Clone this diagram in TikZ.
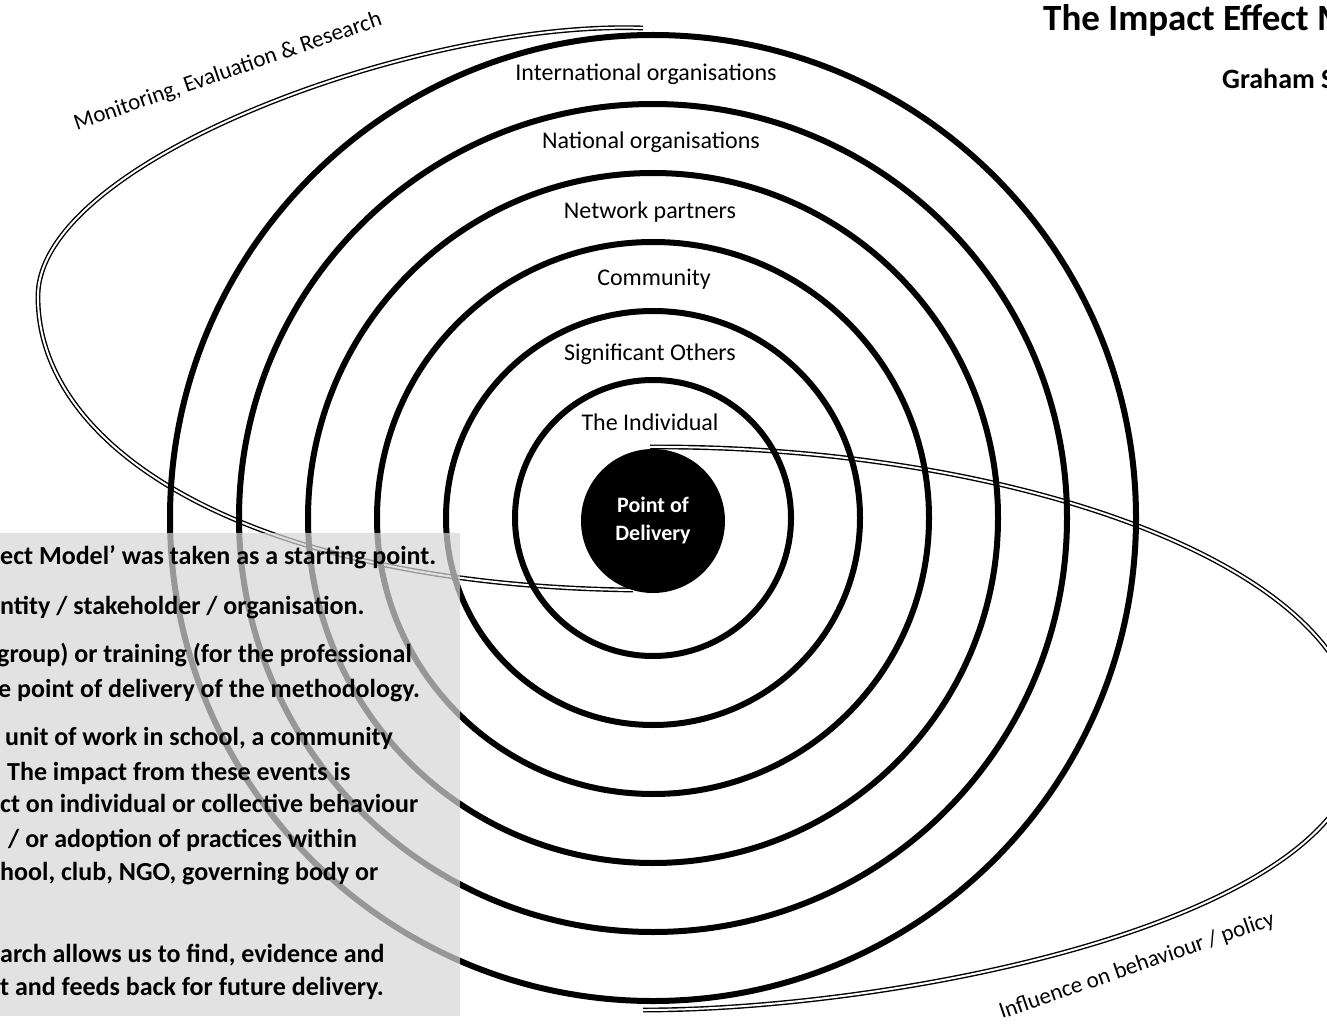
\documentclass[tikz,border=0pt]{standalone}
\usepackage{fontspec}
\setmainfont{Carlito}
\begin{document}
\begin{tikzpicture}[x=1pt,y=-1pt,
  ring/.style={line width=6pt},
  loopline/.style={double,double distance=2pt,line width=1.4pt},
  ringlabel/.style={font=\fontsize{24}{28}\selectfont},
  looplabel/.style={font=\fontsize{23}{27}\selectfont},
  boxline/.style={anchor=base west,inner sep=0pt,font=\bfseries\fontsize{26}{30}\selectfont}]

  \useasboundingbox (0,0) rectangle (1327,1024);
  \clip (0,0) rectangle (1327,1024);

  % the two loops
  \draw[loopline] (643,28) .. controls (420,20) and (40,160) .. (38,295)
    .. controls (36,450) and (250,585) .. (633,590);
  \draw[loopline] (650,447) .. controls (1000,445) and (1360,560) .. (1360,740)
    .. controls (1360,920) and (900,1010) .. (643,1010);

  % rings
  \foreach \r in {138,207,276,345,414,483}
    \draw[ring] (653,518) circle (\r pt);

  \node[circle,fill=black,minimum size=144pt,inner sep=0pt,text=white,align=center,
    font=\bfseries\fontsize{22}{28}\selectfont] (pod) at (653,521) {Point of\\Delivery};

  % ring labels
  \node[ringlabel] (intl) at (646,74)  {International organisations};
  \node[ringlabel] (natl) at (651,142) {National organisations};
  \node[ringlabel] (netw) at (650,212) {Network partners};
  \node[ringlabel] (comm) at (654,279) {Community};
  \node[ringlabel] (sig)  at (650,354) {Significant Others};
  \node[ringlabel] (indv) at (650,422) {The Individual};

  % loop labels
  \node[looplabel,rotate=19] (mer) at (228,72) {Monitoring, Evaluation \& Research};
  \node[looplabel,rotate=19] (inf) at (1137,966) {Influence on behaviour / policy};

  % title
  \node[anchor=base west,inner sep=0pt,font=\bfseries\fontsize{37}{44}\selectfont] (title)
    at (1043,31) {The Impact Effect M};
  \node[anchor=base west,inner sep=0pt,font=\bfseries\fontsize{28}{32}\selectfont] (auth)
    at (1222,89) {Graham S};

  % notes box
  \fill[white!84!black,fill opacity=0.71] (0,533) rectangle (460,1016);
  \node[boxline] (l1)  at (0,564)  {ect Model’ was taken as a starting point.};
  \node[boxline] (l2)  at (0,614)  {ntity / stakeholder / organisation.};
  \node[boxline] (l3)  at (-3,662) {group) or training (for the professional};
  \node[boxline] (l4)  at (-2,697) {e point of delivery of the methodology.};
  \node[boxline] (l5)  at (5,745)  {unit of work in school, a community};
  \node[boxline] (l6)  at (7,780)  {The impact from these events is};
  \node[boxline] (l7)  at (0,812)  {ct on individual or collective behaviour};
  \node[boxline] (l8)  at (8,847)  {/ or adoption of practices within};
  \node[boxline] (l9)  at (0,880)  {hool, club, NGO, governing body or};
  \node[boxline] (l10) at (0,962)  {arch allows us to find, evidence and};
  \node[boxline] (l11) at (0,995)  {t and feeds back for future delivery.};

\end{tikzpicture}
\end{document}
